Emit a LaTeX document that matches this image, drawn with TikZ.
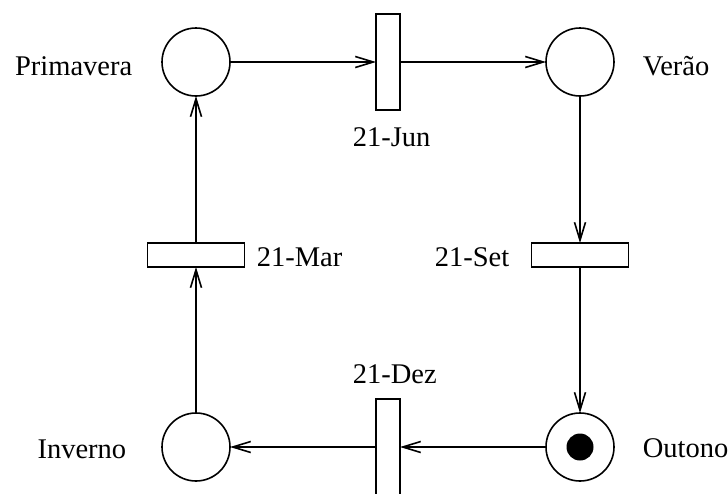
\documentclass[tikz,border=0pt]{standalone}
\usepackage{fontspec}
\setmainfont{Liberation Serif}
\usetikzlibrary{arrows.meta}
\begin{document}
\begin{tikzpicture}[x=1pt,y=-1pt,line width=1.6pt,
  place/.style={draw,circle,minimum size=68pt,inner sep=0pt,outer sep=0pt},
  vtrans/.style={draw,rectangle,minimum width=24pt,minimum height=96pt,inner sep=0pt,outer sep=0pt},
  htrans/.style={draw,rectangle,minimum width=97pt,minimum height=24pt,inner sep=0pt,outer sep=0pt},
  token/.style={fill=black,circle,minimum size=27pt,inner sep=0pt},
  lbl/.style={inner sep=0pt,font=\fontsize{28.5}{34}\selectfont},
  arc/.style={-{Straight Barb[length=18pt,width=11pt]}}]
\useasboundingbox (0,0) rectangle (728,493);
\clip (0,0) rectangle (728,493);
% places
\node[place] (prim) at (196,62) {};
\node[place] (ver)  at (580,62) {};
\node[place] (inv)  at (196,447) {};
\node[place] (out)  at (580,447) {};
\node[token] (tok)  at (580,447) {};
% transitions
\node[vtrans] (jun) at (388,62) {};
\node[htrans] (set) at (580,255) {};
\node[htrans] (mar) at (196,255) {};
\node[vtrans] (dez) at (388,447) {};
% labels
\node[lbl,anchor=base east] (lprim) at (133,75) {Primavera};
\node[lbl,anchor=base west] (lver)  at (642,75) {Verão};
\node[lbl,anchor=base east] (linv)  at (127,458) {Inverno};
\node[lbl,anchor=base west] (lout)  at (642,457) {Outono};
\node[lbl,anchor=base west] (ljun)  at (352,146) {21-Jun};
\node[lbl,anchor=base west] (ldez)  at (352,383) {21-Dez};
\node[lbl,anchor=base west] (lmar)  at (256,266) {21-Mar};
\node[lbl,anchor=base east] (lset)  at (510,266) {21-Set};
% arcs
\draw[arc] (prim) -- (jun);
\draw[arc] (jun) -- (ver);
\draw[arc] (ver) -- (set);
\draw[arc] (set) -- (out);
\draw[arc] (out) -- (dez);
\draw[arc] (dez) -- (inv);
\draw[arc] (inv) -- (mar);
\draw[arc] (mar) -- (prim);
\end{tikzpicture}
\end{document}
